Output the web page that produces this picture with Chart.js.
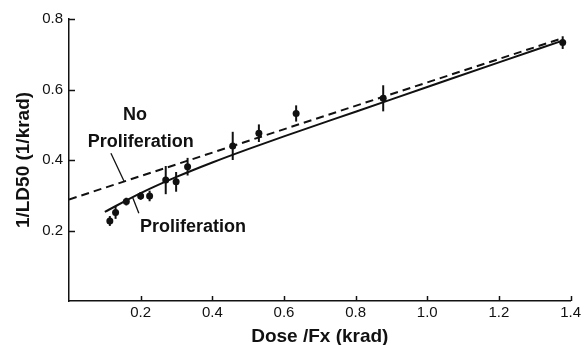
<!DOCTYPE html>
<html>
<head>
<meta charset="utf-8">
<script src="https://cdn.jsdelivr.net/npm/chart.js@4.4.1/dist/chart.umd.min.js"></script>
<style>
  html, body { margin: 0; padding: 0; background: #fff; }
  #wrap { width: 584px; height: 345px; }
</style>
</head>
<body>
<div id="wrap"><canvas id="ldChart" width="584" height="345"></canvas></div>
<script>
// measured points: dose per fraction vs 1/LD50
const doses = [0.114, 0.130, 0.160, 0.200, 0.225, 0.270, 0.299, 0.331, 0.457, 0.530, 0.634, 0.877, 1.378];
const invLD50 = [0.227, 0.251, 0.282, 0.298, 0.298, 0.343, 0.338, 0.381, 0.440, 0.476, 0.532, 0.575, 0.733];
const errs = [0.014, 0.018, 0.011, 0.011, 0.015, 0.040, 0.028, 0.025, 0.040, 0.025, 0.023, 0.037, 0.018];

// model curves
const prolifX = [0.10, 0.20, 0.30, 0.40, 0.50, 0.60, 0.80, 1.00, 1.20, 1.376];
const prolifY = [0.253, 0.306, 0.352, 0.393, 0.431, 0.467, 0.537, 0.607, 0.677, 0.738];
const noProlifX = [0, 1.376];
const noProlifY = [0.288, 0.745];

const xTicks = [0.2, 0.4, 0.6, 0.8, 1.0, 1.2, 1.4];
const yTicks = [0.2, 0.4, 0.6, 0.8];

const FONT = '"Liberation Sans", Arial, Helvetica, sans-serif';
const INK = '#111';

const toXY = (xs, ys) => xs.map((x, i) => ({ x: x, y: ys[i] }));

// text labels with leader lines, in data units
const notes = [
  { text: 'No', x: 0.184, y: 0.527 },
  { text: 'Proliferation', x: 0.200, y: 0.452, from: [0.117, 0.419], to: [0.154, 0.339] },
  { text: 'Proliferation', x: 0.346, y: 0.211, from: [0.178, 0.293], to: [0.195, 0.249] }
];

const extras = {
  id: 'extras',
  afterDatasetsDraw(chart) {
    const { ctx, scales: { x, y } } = chart;
    ctx.save();
    ctx.strokeStyle = INK;
    ctx.fillStyle = INK;
    ctx.lineCap = 'butt';

    // error bars
    ctx.lineWidth = 2;
    doses.forEach((d, i) => {
      const px = x.getPixelForValue(d);
      ctx.beginPath();
      ctx.moveTo(px, y.getPixelForValue(invLD50[i] - errs[i]));
      ctx.lineTo(px, y.getPixelForValue(invLD50[i] + errs[i]));
      ctx.stroke();
    });

    // inward tick marks
    ctx.lineWidth = 1.5;
    const bottom = chart.chartArea.bottom, left = chart.chartArea.left;
    xTicks.forEach(v => {
      const px = Math.round(x.getPixelForValue(v)) + 0.5;
      ctx.beginPath(); ctx.moveTo(px, bottom); ctx.lineTo(px, bottom - 5); ctx.stroke();
    });
    yTicks.forEach(v => {
      const py = Math.round(y.getPixelForValue(v)) + 0.5;
      ctx.beginPath(); ctx.moveTo(left, py); ctx.lineTo(left + 6, py); ctx.stroke();
    });

    // labels
    ctx.font = 'bold 18px ' + FONT;
    ctx.textAlign = 'center';
    ctx.textBaseline = 'middle';
    notes.forEach(n => {
      ctx.fillText(n.text, x.getPixelForValue(n.x), y.getPixelForValue(n.y));
      if (n.from) {
        ctx.lineWidth = 1.3;
        ctx.beginPath();
        ctx.moveTo(x.getPixelForValue(n.from[0]), y.getPixelForValue(n.from[1]));
        ctx.lineTo(x.getPixelForValue(n.to[0]), y.getPixelForValue(n.to[1]));
        ctx.stroke();
      }
    });
    ctx.restore();
  }
};

new Chart(document.getElementById('ldChart'), {
  type: 'scatter',
  data: {
    datasets: [
      {
        label: 'No Proliferation',
        data: toXY(noProlifX, noProlifY),
        showLine: true,
        borderColor: INK,
        borderWidth: 2,
        borderDash: [8, 5],
        pointRadius: 0
      },
      {
        label: 'Proliferation',
        data: toXY(prolifX, prolifY),
        showLine: true,
        borderColor: INK,
        borderWidth: 2,
        tension: 0.4,
        cubicInterpolationMode: 'monotone',
        pointRadius: 0
      },
      {
        label: 'Data',
        data: toXY(doses, invLD50),
        showLine: false,
        pointRadius: 3.5,
        pointBackgroundColor: INK,
        pointBorderColor: INK,
        pointBorderWidth: 0
      }
    ]
  },
  options: {
    responsive: false,
    animation: false,
    devicePixelRatio: 1,
    layout: { padding: { top: 19, right: 12, left: 0, bottom: 0 } },
    plugins: { legend: { display: false }, tooltip: { enabled: false } },
    scales: {
      x: {
        type: 'linear', min: 0, max: 1.4,
        afterFit: s => { s.height = 44; },
        afterBuildTicks: s => { s.ticks = xTicks.map(v => ({ value: v })); },
        grid: { display: false, drawTicks: false },
        border: { display: true, color: INK, width: 1.5 },
        ticks: {
          color: INK, padding: 3, maxRotation: 0, autoSkip: false,
          font: { family: FONT, size: 15 },
          callback: v => v.toFixed(1)
        },
        title: {
          display: true, text: 'Dose /Fx (krad)', color: INK,
          font: { family: FONT, size: 19, weight: 'bold', lineHeight: 1 },
          padding: { top: 0, bottom: -1 }
        }
      },
      y: {
        type: 'linear', min: 0, max: 0.8,
        afterFit: s => { s.width = 69; },
        afterBuildTicks: s => { s.ticks = yTicks.map(v => ({ value: v })); },
        grid: { display: false, drawTicks: false },
        border: { display: true, color: INK, width: 1.5 },
        ticks: {
          color: INK, padding: 6,
          font: { family: FONT, size: 15 },
          callback: v => v.toFixed(1)
        },
        title: {
          display: true, text: '1/LD50 (1/krad)', color: INK,
          font: { family: FONT, size: 19, weight: 'bold', lineHeight: 1 },
          padding: { top: 14, bottom: 0 }
        }
      }
    }
  },
  plugins: [extras]
});
</script>
</body>
</html>
